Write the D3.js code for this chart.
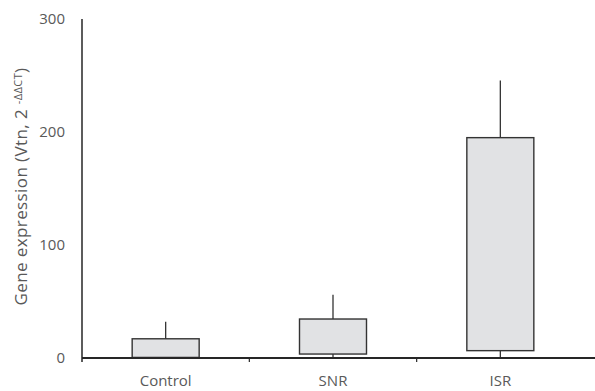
<!DOCTYPE html>
<html>
<head>
<meta charset="utf-8">
<script src="https://cdn.jsdelivr.net/npm/d3@7"></script>
<style>
  body { margin: 0; background: #fff; }
  text { font-family: "Open Sans", "Liberation Sans", sans-serif; fill: #595959; }
</style>
</head>
<body>
<svg></svg>
<script>
const width = 595
const height = 391

const groups = ["Control", "SNR", "ISR"]
const boxLow = [0.5, 3.5, 6.5]
const boxHigh = [17, 34.5, 195]
const whiskerLow = [0, 0, 0]
const whiskerHigh = [32, 56, 245.5]
const yTicks = [0, 100, 200, 300]

const margin = {top: 19, right: 11, bottom: 33, left: 82}

const svg = d3.select("svg")
    .attr("width", width)
    .attr("height", height)

const xScale = d3.scaleBand()
    .domain(groups)
    .range([margin.left, width - margin.right])
    .paddingInner(0)
    .paddingOuter(0)

const yScale = d3.scaleLinear()
    .domain([0, 300])
    .range([height - margin.bottom, margin.top])

const boxWidth = 67
const data = groups.map((g, i) => ({
    name: g, low: boxLow[i], high: boxHigh[i], wLow: whiskerLow[i], wHigh: whiskerHigh[i]
}))

// whiskers
svg.selectAll(".whisker")
    .data(data)
    .enter()
    .append("line")
        .attr("x1", d => xScale(d.name) + xScale.bandwidth() / 2)
        .attr("x2", d => xScale(d.name) + xScale.bandwidth() / 2)
        .attr("y1", d => yScale(d.wLow))
        .attr("y2", d => yScale(d.wHigh))
        .style("stroke", "#333")
        .style("stroke-width", 1.3)

// boxes
svg.selectAll(".box")
    .data(data)
    .enter()
    .append("rect")
        .attr("x", d => xScale(d.name) + xScale.bandwidth() / 2 - boxWidth / 2)
        .attr("width", boxWidth)
        .attr("y", d => yScale(d.high))
        .attr("height", d => yScale(d.low) - yScale(d.high))
        .style("fill", "#e1e2e4")
        .style("stroke", "#333")
        .style("stroke-width", 1.4)

// y axis
const yAxis = d3.axisLeft(yScale).tickValues(yTicks).tickSize(0).tickPadding(17)
const gy = svg.append("g")
    .attr("transform", `translate(${margin.left}, 0)`)
    .call(yAxis)
gy.select(".domain").remove()
gy.selectAll("text").style("font-size", "15px").style("font-family", null).style("fill", "#595959")
svg.append("line")
    .attr("x1", margin.left).attr("x2", margin.left)
    .attr("y1", yScale(300)).attr("y2", yScale(0) + 4)
    .style("stroke", "#262626").style("stroke-width", 1.5)

// x axis
const xAxis = d3.axisBottom(xScale).tickSize(0).tickPadding(17)
const gx = svg.append("g")
    .attr("transform", `translate(0, ${yScale(0)})`)
    .call(xAxis)
gx.select(".domain").remove()
gx.selectAll("text").style("font-size", "15px").style("fill", "#595959")
svg.append("line")
    .attr("x1", margin.left).attr("x2", width)
    .attr("y1", yScale(0)).attr("y2", yScale(0))
    .style("stroke", "#262626").style("stroke-width", 1.8)
svg.selectAll(".xtick")
    .data(groups.slice(1))
    .enter()
    .append("line")
        .attr("x1", d => xScale(d)).attr("x2", d => xScale(d))
        .attr("y1", yScale(0)).attr("y2", yScale(0) + 4)
        .style("stroke", "#262626").style("stroke-width", 1.2)

// y label
const label = svg.append("text")
    .attr("transform", `translate(27, ${yScale(150) - 2}) rotate(-90)`)
    .attr("text-anchor", "middle")
    .style("font-size", "17px")
    .style("letter-spacing", "0.4px")
label.append("tspan").text("Gene expression (Vtn, 2 ")
label.append("tspan").attr("dy", -5).style("font-size", "11px").text("-ΔΔCT")
label.append("tspan").attr("dy", 5).text(")")
</script>
</body>
</html>
